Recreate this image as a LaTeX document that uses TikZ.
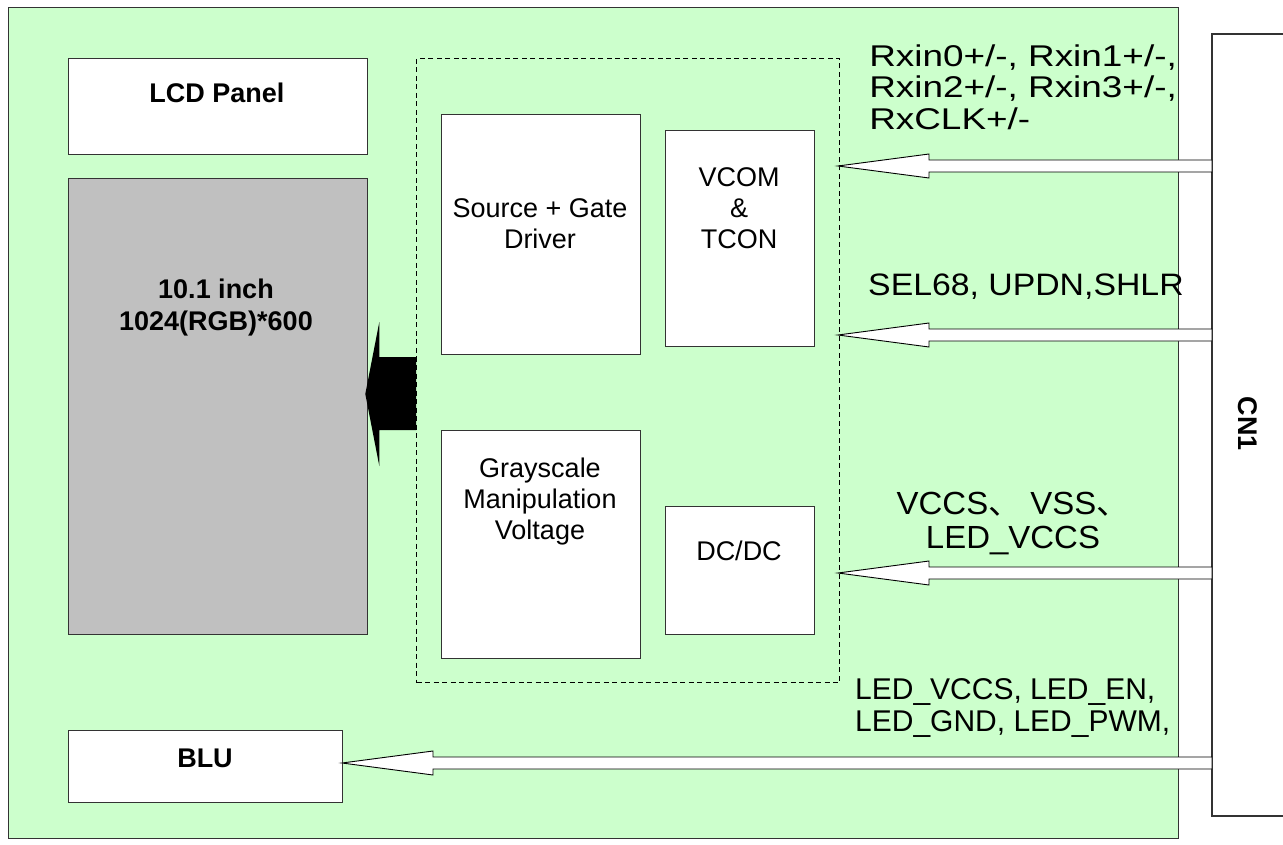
\documentclass[tikz,border=0pt]{standalone}
\usepackage{fontspec}
\setmainfont{Liberation Sans}
\newfontfamily\cjkfont{Noto Sans CJK SC}
\usetikzlibrary{calc}
\definecolor{bggreen}{HTML}{CCFFCC}
\definecolor{panelgray}{HTML}{C0C0C0}
\definecolor{edgegray}{HTML}{333333}
\newcommand\hollowarrow[4]{% name, tip x, tail x, y
  \coordinate (#1tip) at (#2,#4);
  \coordinate (#1tail) at (#3,#4);
  \draw[harrow] (#1tip) -- ($(#1tip)+(91,-12)$) -- ($(#1tip)+(91,-6)$) -- ($(#1tail)+(0,-6)$)
    -- ($(#1tail)+(0,6)$) -- ($(#1tip)+(91,6)$) -- ($(#1tip)+(91,12)$) -- cycle;}
\begin{document}
\begin{tikzpicture}[x=1pt,y=-1pt,
  font=\fontsize{27}{31}\selectfont,
  box/.style={draw=edgegray, line width=1.3pt, fill=white, inner sep=0pt, anchor=north west},
  lbl/.style={inner sep=0pt, align=center},
  sidelbl/.style={inner sep=0pt, anchor=west, align=left},
  harrow/.style={draw=black, line width=0.9pt, fill=white, line join=miter}]
\useasboundingbox (0,0) rectangle (1283,845);
\fill[white] (0,0) rectangle (1283,845);
% main board
\node[box, fill=bggreen, minimum width=1170, minimum height=831] (board) at (8,7) {};
% CN1 connector (right side cut by page)
\draw[draw=edgegray, line width=1.3pt, fill=white] (1290,34) -- (1212,34) -- (1212,816) -- (1290,816);
\coordinate (cn1) at (1212,424);
\node[lbl, rotate=-90, font=\fontsize{27}{31}\selectfont\bfseries] (cn1t) at (1248,424) {CN1};
% left column
\node[box, minimum width=299, minimum height=96] (lcd) at (68,58) {};
\node[lbl, font=\fontsize{27}{31}\selectfont\bfseries] (lcdt) at (217,93) {LCD Panel};
\node[box, fill=panelgray, minimum width=299, minimum height=456] (panel) at (68,178) {};
\node[lbl, font=\fontsize{27}{32}\selectfont\bfseries] (panelt) at (216,308) {10.1 inch\\1024(RGB)*600};
\node[box, minimum width=274, minimum height=72] (blu) at (68,730) {};
\node[lbl, font=\fontsize{27}{31}\selectfont\bfseries] (blut) at (205,758) {BLU};
% driver block
\node[draw=black, dashed, dash pattern=on 5pt off 3.5pt, line width=1pt, inner sep=0pt, anchor=north west,
  minimum width=423, minimum height=624] (drv) at (416,58) {};
\node[box, minimum width=199, minimum height=240] (src) at (441,114) {};
\node[lbl] (srct) at (540,224) {Source + Gate\\Driver};
\node[box, minimum width=149, minimum height=216] (vcom) at (665,130) {};
\node[lbl] (vcomt) at (739,208) {VCOM\\\&\\TCON};
\node[box, minimum width=199, minimum height=228] (gray) at (441,430) {};
\node[lbl] (grayt) at (540,502) {Grayscale\\Manipulation\\Voltage};
\node[box, minimum width=149, minimum height=128] (dcdc) at (665,506) {};
\node[lbl] (dcdct) at (739,551) {DC/DC};
% black arrow from driver to panel
\fill[black] (panel.east |- 0,394) ++(-3,0) coordinate (barrtip) -- ++(14,-72) -- ++(0,35) -- (drv.west |- 0,357)
  -- (drv.west |- 0,430) -- ($(barrtip)+(14,36)$) -- ($(barrtip)+(14,72)$) -- cycle;
% hollow arrows
\hollowarrow{a}{838}{1212}{166}
\hollowarrow{b}{838}{1212}{335}
\hollowarrow{c}{838}{1212}{573}
\hollowarrow{d}{342}{1212}{763}
% labels
\node[sidelbl, font=\fontsize{30}{31.5}\selectfont, xscale=1.23] (la) at (869,87)
  {Rxin0+/-, Rxin1+/-,\\Rxin2+/-, Rxin3+/-,\\RxCLK+/-};
\node[sidelbl, font=\fontsize{31}{34}\selectfont, xscale=1.09] (lb) at (868,287) {SEL68, UPDN,SHLR};
\node[lbl, font=\fontsize{32}{34}\selectfont, xscale=1.03] (lc) at (1013,524) {VCCS{\cjkfont 、} VSS{\cjkfont 、}\\LED\_VCCS};
\node[sidelbl, font=\fontsize{30}{32}\selectfont] (ld) at (855,708) {LED\_VCCS, LED\_EN,\\LED\_GND, LED\_PWM,};
\end{tikzpicture}
\end{document}
